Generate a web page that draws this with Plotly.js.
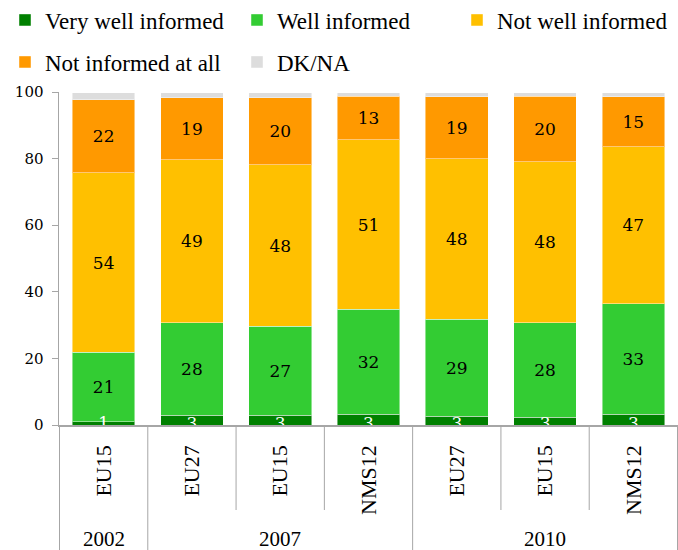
<!DOCTYPE html>
<html>
<head>
<meta charset="utf-8">
<script src="https://cdn.plot.ly/plotly-3.0.1.min.js"></script>
<style>html,body{margin:0;padding:0;overflow:hidden;background:#fff}</style>
</head>
<body>
<div id="chart" style="width:678px;height:550px"></div>
<script>
var years = ['2002','2007','2007','2007','2010','2010','2010'];
var regions = ['EU15','EU27','EU15','NMS12','EU27','EU15','NMS12'];

var veryWell = [1.0, 3.0, 3.0, 3.3, 2.7, 2.4, 3.3];
var well = [20.8, 27.7, 26.7, 31.5, 29.1, 28.3, 33.1];
var notWell = [53.9, 48.9, 48.4, 50.8, 48.1, 48.3, 47.1];
var notAtAll = [21.9, 18.7, 20.2, 13.2, 18.7, 19.8, 15.1];
var dkna = [2.2, 1.5, 1.5, 1.0, 1.2, 1.0, 1.2];

var veryWellLabels = ['1','3','3','3','3','3','3'];
var wellLabels = ['21','28','27','32','29','28','33'];
var notWellLabels = ['54','49','48','51','48','48','47'];
var notAtAllLabels = ['22','19','20','13','19','20','15'];

// unique category keys (year + region), shown with region tick labels
var xKeys = years.map(function(y, i){ return y + ' ' + regions[i]; });
var numFont = '"DejaVu Serif", "Liberation Serif", serif';
var txtFont = '"Liberation Serif", "DejaVu Serif", serif';
var gridCol = '#A6A6A6';

var plotH = 550 - 92 - 125;

function bar(name, vals, color, labels, legend) {
  var t = {
    type: 'bar', name: name, x: xKeys, y: vals,
    marker: {color: color, line: {color: 'rgba(255,255,255,0.45)', width: 1}},
    legend: legend, hoverinfo: 'name+y'
  };
  if (labels) {
    t.text = labels;
    t.textposition = 'inside';
    t.insidetextanchor = 'middle';
    t.textangle = 0;
    t.constraintext = 'none';
    t.textfont = {family: numFont, size: 17, color: '#000'};
  } else {
    t.textposition = 'none';
  }
  return t;
}

var data = [
  bar('Very well informed', veryWell, '#008000', null, 'legend'),
  bar('Well informed', well, '#33CC33', wellLabels, 'legend'),
  bar('Not well informed', notWell, '#FFC000', notWellLabels, 'legend3'),
  bar('Not informed at all', notAtAll, '#FF9900', notAtAllLabels, 'legend2'),
  bar('DK/NA', dkna, '#DDDDDD', null, 'legend2'),
  {
    type: 'scatter', mode: 'text', x: xKeys, y: veryWell.map(function(){return 0;}),
    text: veryWellLabels, textposition: 'middle center',
    textfont: {family: numFont, size: 17, color: '#fff'},
    showlegend: false, hoverinfo: 'skip', cliponaxis: true
  }
];

var shapes = [];
var annotations = [];
var innerDepth = -(510 - 425) / plotH;
var groupDepth = -(551 - 425) / plotH;
for (var i = 0; i <= years.length; i++) {
  var isGroup = (i === 0 || i === years.length || years[i] !== years[i - 1]);
  shapes.push({
    type: 'line', xref: 'x', yref: 'paper',
    x0: i - 0.5, x1: i - 0.5, y0: 0, y1: isGroup ? groupDepth : innerDepth,
    line: {color: gridCol, width: 1}
  });
}
var start = 0;
for (var j = 1; j <= years.length; j++) {
  if (j === years.length || years[j] !== years[start]) {
    annotations.push({
      xref: 'x', yref: 'paper', x: (start + j - 1) / 2, y: -(539 - 425) / plotH,
      text: years[start], showarrow: false, xanchor: 'center', yanchor: 'middle',
      font: {family: txtFont, size: 21, color: '#000'}
    });
    start = j;
  }
}

var legendCommon = {
  orientation: 'h', xref: 'container', yref: 'container',
  xanchor: 'left', yanchor: 'middle',
  font: {family: txtFont, size: 23, color: '#000'},
  entrywidth: 187, entrywidthmode: 'pixels',
  bgcolor: 'rgba(0,0,0,0)', borderwidth: 0, traceorder: 'normal'
};

var layout = {
  width: 678, height: 550,
  margin: {l: 59, r: 0, t: 92, b: 125},
  barmode: 'stack', bargap: 0.29,
  paper_bgcolor: '#fff', plot_bgcolor: '#fff',
  showlegend: true,
  legend: Object.assign({}, legendCommon, {x: 5/678, y: 1 - 20/550}),
  legend3: Object.assign({}, legendCommon, {x: 457/678, y: 1 - 20/550, entrywidth: 180}),
  legend2: Object.assign({}, legendCommon, {x: 5/678, y: 1 - 62/550}),
  shapes: shapes,
  annotations: annotations,
  xaxis: {
    type: 'category',
    categoryorder: 'array', categoryarray: xKeys,
    tickmode: 'array', tickvals: xKeys, ticktext: regions,
    showline: true, linecolor: gridCol, linewidth: 1.5,
    ticks: '', tickangle: -90, ticklabelstandoff: 10,
    tickfont: {family: txtFont, size: 22, color: '#000'},
    showgrid: false, zeroline: false
  },
  yaxis: {
    range: [0, 100], dtick: 20, tick0: 0,
    showline: true, linecolor: gridCol, linewidth: 1.5,
    ticks: 'outside', ticklen: 6, tickcolor: gridCol,
    tickfont: {family: numFont, size: 15, color: '#000'},
    showgrid: false, zeroline: false, ticklabelstandoff: 5
  }
};

Plotly.newPlot('chart', data, layout, {displayModeBar: false, staticPlot: true});
</script>
</body>
</html>
